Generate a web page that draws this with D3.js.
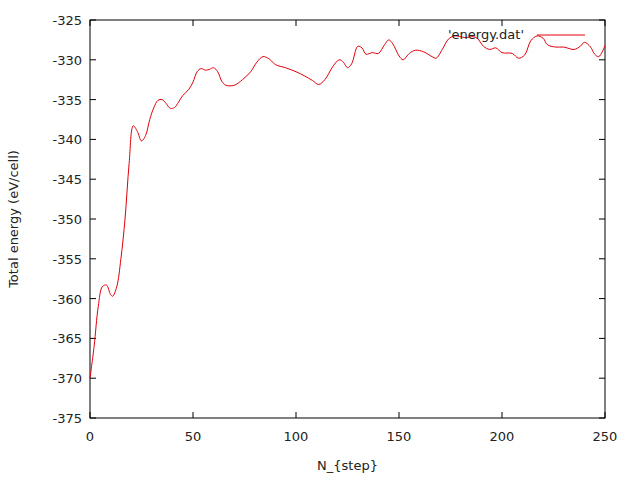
<!DOCTYPE html><html><head><script src="https://cdn.jsdelivr.net/npm/d3@7"></script>
<style>body{margin:0;background:#fff}text{font-family:"DejaVu Sans",sans-serif;font-size:13px;fill:#222}</style></head><body>
<svg id="c" width="640" height="480"></svg>
<script>
const steps=[0,2,4,6,8,10,11,13,15,17,19,21,23,25,27,29,31,33,35,37,39,41,43,45,48,50,52,54,56,58,60,62,64,66,70,74,78,81,84,87,90,95,100,104,108,111,114,118,121,123,125,127,130,132,134,137,140,143,145,147,150,152,155,158,162,166,168,171,174,177,182,186,188,191,194,197,200,205,208,211,214,217,220,222,226,230,235,238,240,243,245,247,250];
const energy=[-370,-366,-361,-358.5,-358.3,-359.5,-359.7,-358.5,-355,-350,-343,-338.3,-339,-340.2,-339.5,-337.5,-336,-335.1,-335,-335.5,-336.1,-336,-335.3,-334.5,-333.7,-332.8,-331.5,-331.1,-331.3,-331.2,-331,-331.5,-332.7,-333.2,-333.2,-332.5,-331.5,-330.3,-329.6,-329.9,-330.6,-331,-331.5,-332,-332.6,-333.1,-332.5,-330.8,-330,-330.3,-331,-330.5,-328.3,-328.5,-329.3,-329.1,-329.2,-328.1,-327.5,-328,-329.5,-330,-329.2,-328.8,-329,-329.6,-329.8,-328.7,-327.4,-327,-327.2,-327.1,-327.3,-328.3,-328.7,-328.5,-329.1,-329.2,-329.8,-329.4,-327.6,-327,-327.3,-328.1,-328.4,-328.4,-328.7,-328.3,-327.8,-328.4,-329.3,-329.6,-328.2];
const xTicks=[0,50,100,150,200,250];
const yTicks=[-375,-370,-365,-360,-355,-350,-345,-340,-335,-330,-325];
const L=90,R=605,T=20,B=418;
const svg=d3.select("#c");
const x=d3.scaleLinear().domain([0,250]).range([L,R]);
const y=d3.scaleLinear().domain([-375,-325]).range([B,T]);
const g=svg.append("g");
// ticks (inside, mirrored)
xTicks.forEach(t=>{
  g.append("line").attr("x1",x(t)).attr("x2",x(t)).attr("y1",B).attr("y2",B-6).attr("stroke","#000");
  g.append("line").attr("x1",x(t)).attr("x2",x(t)).attr("y1",T).attr("y2",T+6).attr("stroke","#000");
  g.append("text").attr("x",x(t)).attr("y",B+23).attr("text-anchor","middle").text(t);
});
yTicks.forEach(t=>{
  g.append("line").attr("x1",L).attr("x2",L+6).attr("y1",y(t)).attr("y2",y(t)).attr("stroke","#000");
  g.append("line").attr("x1",R).attr("x2",R-6).attr("y1",y(t)).attr("y2",y(t)).attr("stroke","#000");
  g.append("text").attr("x",L-8).attr("y",y(t)+5).attr("text-anchor","end").text(t);
});
g.append("rect").attr("x",L).attr("y",T).attr("width",R-L).attr("height",B-T).attr("fill","none").attr("stroke","#000");
g.append("path").datum(steps.map((s,i)=>[s,energy[i]])).attr("fill","none").attr("stroke","#e0000b").attr("stroke-width",1)
 .attr("d",d3.line().x(d=>x(d[0])).y(d=>y(d[1])).curve(d3.curveCatmullRom));
g.append("text").attr("x",524).attr("y",39).attr("text-anchor","end").text("'energy.dat'");
g.append("line").attr("x1",537).attr("x2",585).attr("y1",35).attr("y2",35).attr("stroke","#e0000b");
g.append("text").attr("x",(L+R)/2).attr("y",470).attr("text-anchor","middle").text("N_{step}");
g.append("text").attr("transform",`translate(18,${(T+B)/2}) rotate(-90)`).attr("text-anchor","middle").text("Total energy (eV/cell)");
</script></body></html>
